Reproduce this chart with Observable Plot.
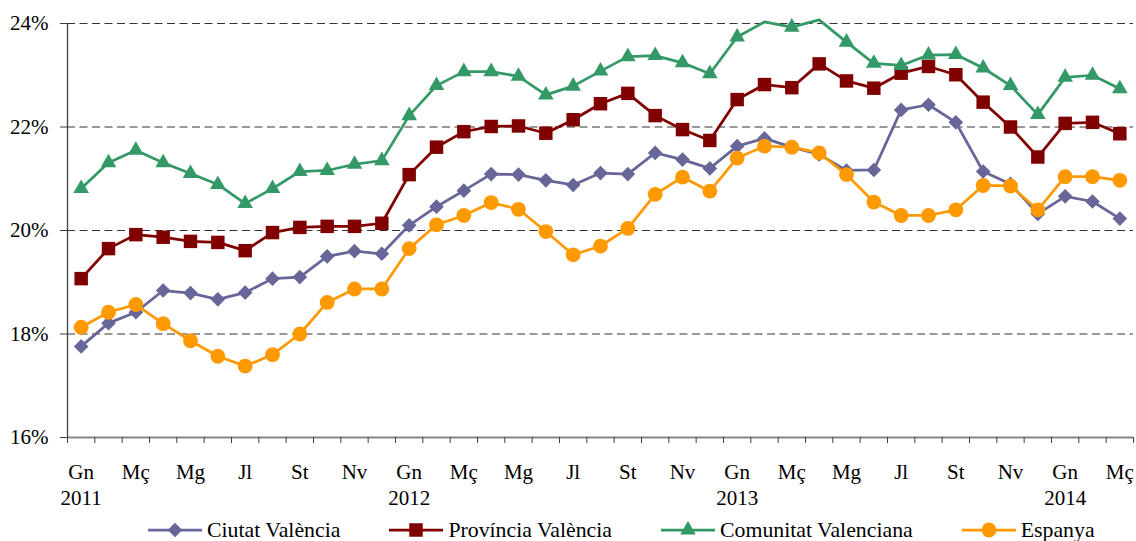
<!DOCTYPE html>
<html>
<head>
<meta charset="utf-8">
<script src="https://cdn.jsdelivr.net/npm/d3@7"></script>
<script src="https://cdn.jsdelivr.net/npm/@observablehq/plot@0.6"></script>
<style>
  html, body { margin: 0; padding: 0; background: #fff; }
  body { width: 1136px; height: 541px; position: relative; overflow: hidden;
         font-family: "Liberation Serif", "Times New Roman", serif; }
  #legend { position: absolute; left: 148px; top: 518px; height: 24px; display: flex;
            align-items: center; gap: 49px; font-size: 21.8px; color: #000; }
  .item { display: flex; align-items: center; gap: 5px; white-space: nowrap; }
  .item svg { display: block; }
</style>
</head>
<body>
<div id="chart"></div>
<div id="legend"></div>
<script>
const months = [
  "Gn 2011","F 2011","Mç 2011","Ab 2011","Mg 2011","Jn 2011","Jl 2011","Ag 2011","St 2011","Oc 2011","Nv 2011","Ds 2011",
  "Gn 2012","F 2012","Mç 2012","Ab 2012","Mg 2012","Jn 2012","Jl 2012","Ag 2012","St 2012","Oc 2012","Nv 2012","Ds 2012",
  "Gn 2013","F 2013","Mç 2013","Ab 2013","Mg 2013","Jn 2013","Jl 2013","Ag 2013","St 2013","Oc 2013","Nv 2013","Ds 2013",
  "Gn 2014","F 2014","Mç 2014"
];
const monthTickLabels = ["Gn","Mç","Mg","Jl","St","Nv","Gn","Mç","Mg","Jl","St","Nv","Gn","Mç","Mg","Jl","St","Nv","Gn","Mç"];
const yearLabels = ["2011","2012","2013","2014"];
const yTicks = [16, 18, 20, 22, 24];

const ciutat = [17.76,18.21,18.42,18.84,18.79,18.67,18.80,19.07,19.10,19.50,19.60,19.55,
  20.10,20.46,20.77,21.09,21.08,20.97,20.88,21.11,21.09,21.50,21.37,21.20,
  21.63,21.78,21.61,21.47,21.16,21.17,22.33,22.43,22.09,21.14,20.90,20.32,
  20.66,20.56,20.23];
const provincia = [19.07,19.65,19.92,19.87,19.79,19.77,19.61,19.96,20.06,20.08,20.08,20.14,
  21.08,21.61,21.91,22.01,22.02,21.88,22.14,22.45,22.65,22.22,21.95,21.74,
  22.53,22.82,22.76,23.22,22.89,22.75,23.04,23.17,23.01,22.48,22.00,21.42,
  22.07,22.09,21.87];
const comunitat = [20.81,21.31,21.55,21.31,21.10,20.89,20.52,20.81,21.14,21.16,21.28,21.35,
  22.22,22.80,23.07,23.07,22.98,22.62,22.79,23.08,23.36,23.38,23.24,23.03,
  23.74,24.03,23.93,24.07,23.64,23.23,23.19,23.39,23.40,23.14,22.80,22.24,
  22.96,23.00,22.74];
const espanya = [18.13,18.42,18.57,18.20,17.87,17.57,17.38,17.60,18.00,18.61,18.87,18.87,
  19.65,20.11,20.29,20.54,20.41,19.98,19.53,19.70,20.04,20.70,21.03,20.76,
  21.40,21.63,21.61,21.50,21.08,20.55,20.29,20.29,20.40,20.87,20.86,20.40,
  21.04,21.04,20.97];

const seriesNames = ["Ciutat València","Província València","Comunitat Valenciana","Espanya"];
const seriesValues = [ciutat, provincia, comunitat, espanya];
const seriesColors = ["#666699","#800000","#339966","#FF9900"];
const seriesSymbols = ["diamond2","square","triangle","circle"];
const seriesR = [6.6, 7.6, 5.8, 7.4];

const rows = seriesNames.map((name, s) => months.map((m, i) => ({name, month: m, i, v: seriesValues[s][i]})));

const boundaries = d3.range(months.length + 1).map(i => i - 0.5);
const labelIdx = months.map((m, i) => i).filter(i => i % 2 === 0);
const labelFor = i => monthTickLabels[i / 2] + (i % 12 === 0 ? "\n" + yearLabels[i / 12] : "");

const marks = [
  Plot.ruleY([18, 20, 22, 24], {stroke: "#000", strokeOpacity: 0.8, strokeWidth: 1, strokeDasharray: "8,4.5"}),
  Plot.ruleY([16], {stroke: "#868686", strokeWidth: 2}),
  Plot.ruleX([-0.5], {stroke: "#404040", strokeWidth: 1.3}),
  Plot.axisY({ticks: yTicks, tickFormat: d => d + "%", tickSize: 7, tickPadding: 12, stroke: "#404040", fill: "#000", label: null}),
  Plot.axisX({ticks: boundaries, tickSize: 6, tickFormat: () => "", stroke: "#404040", label: null}),
  Plot.axisX({ticks: labelIdx, tickSize: 0, tickPadding: 23.5, tickFormat: labelFor, lineHeight: 1.22, fill: "#000", label: null})
];
rows.forEach((data, s) => {
  marks.push(Plot.line(data, {x: "i", y: "v", stroke: seriesColors[s], strokeWidth: 2.75}));
  marks.push(Plot.dot(data.filter(d => d.v <= 24), {x: "i", y: "v", symbol: seriesSymbols[s], r: seriesR[s], fill: seriesColors[s], stroke: "none"}));
});

const chart = Plot.plot({
  width: 1136,
  height: 510,
  marginLeft: 67,
  marginRight: 3,
  marginTop: 23,
  marginBottom: 73,
  style: {fontFamily: '"Liberation Serif", "Times New Roman", serif', fontSize: "21px", background: "#fff", color: "#000", overflow: "visible"},
  x: {type: "linear", domain: [-0.5, months.length - 0.5], label: null},
  y: {domain: [16, 24], label: null},
  marks
});
document.getElementById("chart").appendChild(chart);

// Legend
const legend = document.getElementById("legend");
const symMap = {diamond2: d3.symbolDiamond2, square: d3.symbolSquare, triangle: d3.symbolTriangle, circle: d3.symbolCircle};
seriesNames.forEach((name, s) => {
  const item = document.createElement("div");
  item.className = "item";
  const svg = d3.create("svg").attr("width", 54).attr("height", 18);
  svg.append("line").attr("x1", 0).attr("x2", 54).attr("y1", 9).attr("y2", 9)
    .attr("stroke", seriesColors[s]).attr("stroke-width", 2.75);
  const r = seriesR[s];
  svg.append("path").attr("transform", "translate(27,9)")
    .attr("d", d3.symbol(symMap[seriesSymbols[s]], r * r * Math.PI)())
    .attr("fill", seriesColors[s]);
  item.appendChild(svg.node());
  const span = document.createElement("span");
  span.textContent = name;
  item.appendChild(span);
  legend.appendChild(item);
});
</script>
</body>
</html>
